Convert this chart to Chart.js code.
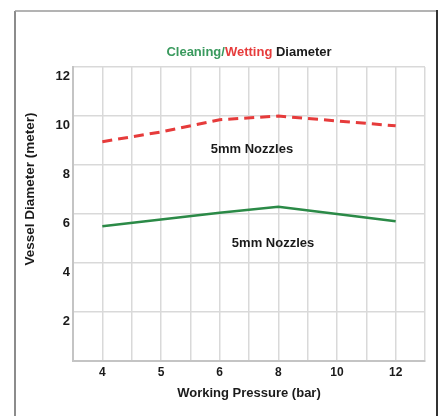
<!DOCTYPE html>
<html lang="en">
<head>
  <meta charset="UTF-8">
  <title>Cleaning/Wetting Diameter</title>
  <script src="https://cdn.jsdelivr.net/npm/chart.js"></script>
  <style>
    html, body { margin: 0; padding: 0; background: #fff; }
    #chart { display: block; }
  </style>
</head>
<body>
  <canvas id="chart" width="443" height="416"></canvas>
  <script>
    // values
    const pressure = ['4', '5', '6', '8', '10', '12'];
    const wetting = [8.95, 9.35, 9.85, 10.0, 9.8, 9.6];
    const cleaning = [5.5, 5.78, 6.05, 6.3, 6.0, 5.7];
    const yTicks = [2, 4, 6, 8, 10, 12];
    const notes = [
      { text: '5mm Nozzles', x: 6.1, y: 8.65 },
      { text: '5mm Nozzles', x: 6.82, y: 4.78 }
    ];

    const FONT = '"Liberation Sans", Arial, Helvetica, sans-serif';
    const GREEN = '#2b8a47';
    const RED = '#e63b3b';

    // each pressure sits on every other grid column
    const pts = vals => vals.map((v, i) => ({ x: i * 2 + 1, y: v }));

    const decor = {
      id: 'decor',
      beforeDraw(chart) {
        const c = chart.ctx;
        c.save();
        c.fillStyle = '#fff';
        c.fillRect(0, 0, chart.width, chart.height);
        c.lineWidth = 2;
        c.strokeStyle = '#8c8c8c';
        c.beginPath(); c.moveTo(15, 416); c.lineTo(15, 11); c.stroke();
        c.lineWidth = 1.5;
        c.strokeStyle = '#9a9a9a';
        c.beginPath(); c.moveTo(15, 11); c.lineTo(437, 11); c.stroke();
        c.lineWidth = 2;
        c.strokeStyle = '#333';
        c.beginPath(); c.moveTo(437, 10); c.lineTo(437, 416); c.stroke();
        c.restore();
      },
      afterDraw(chart) {
        const c = chart.ctx;
        const xs = chart.scales.x, ys = chart.scales.y;
        c.save();
        // title in three colours
        c.font = 'bold 13px ' + FONT;
        c.textBaseline = 'middle';
        const parts = [['Cleaning/', '#3a9a5e'], ['Wetting', RED], [' Diameter', '#1a1a1a']];
        const total = parts.reduce((s, p) => s + c.measureText(p[0]).width, 0);
        let tx = (chart.chartArea.left + chart.chartArea.right) / 2 - total / 2;
        parts.forEach(p => {
          c.fillStyle = p[1];
          c.fillText(p[0], tx, 52);
          tx += c.measureText(p[0]).width;
        });
        // y axis title
        c.fillStyle = '#1a1a1a';
        c.font = 'bold 13.5px ' + FONT;
        c.textAlign = 'center';
        c.translate(30, 189);
        c.rotate(-Math.PI / 2);
        c.fillText('Vessel Diameter (meter)', 0, 0);
        c.setTransform(1, 0, 0, 1, 0, 0);
        // notes
        c.font = 'bold 13px ' + FONT;
        notes.forEach(n => {
          c.fillText(n.text, xs.getPixelForValue(n.x), ys.getPixelForValue(n.y));
        });
        c.restore();
      }
    };

    new Chart(document.getElementById('chart'), {
      type: 'line',
      data: {
        datasets: [
          {
            label: 'Wetting',
            data: pts(wetting),
            borderColor: RED,
            borderWidth: 3,
            borderDash: [10, 6],
            pointRadius: 0,
            tension: 0
          },
          {
            label: 'Cleaning',
            data: pts(cleaning),
            borderColor: GREEN,
            borderWidth: 2.5,
            pointRadius: 0,
            tension: 0
          }
        ]
      },
      options: {
        responsive: false,
        animation: false,
        layout: { padding: { left: 0, right: 18, top: 67, bottom: 0 } },
        plugins: { legend: { display: false }, tooltip: { enabled: false } },
        scales: {
          x: {
            type: 'linear',
            min: 0,
            max: 12,
            afterFit: s => { s.height = 55; },
            afterBuildTicks: s => {
              s.ticks = Array.from({ length: 13 }, (_, i) => ({ value: i }));
            },
            grid: { color: '#d9d9d9', lineWidth: 1.5, drawTicks: false },
            border: { color: '#c4c4c4', width: 2 },
            ticks: {
              autoSkip: false,
              maxRotation: 0,
              padding: 4,
              color: '#1a1a1a',
              font: { family: FONT, size: 12, weight: 'bold' },
              callback: v => (v % 2 === 1 ? pressure[(v - 1) / 2] : '')
            },
            title: {
              display: true,
              text: 'Working Pressure (bar)',
              color: '#1a1a1a',
              font: { family: FONT, size: 13, weight: 'bold' },
              padding: { top: 0, bottom: 15 }
            }
          },
          y: {
            min: 0,
            max: 12,
            afterFit: s => { s.width = 73; },
            afterBuildTicks: s => {
              s.ticks = [0].concat(yTicks).map(v => ({ value: v }));
            },
            grid: { color: '#d9d9d9', lineWidth: 1.5, drawTicks: false },
            border: { color: '#c4c4c4', width: 2 },
            ticks: {
              padding: 3,
              labelOffset: 9,
              color: '#1a1a1a',
              font: { family: FONT, size: 13, weight: 'bold' },
              callback: v => (v === 0 ? '' : v)
            }
          }
        }
      },
      plugins: [decor]
    });
  </script>
</body>
</html>
